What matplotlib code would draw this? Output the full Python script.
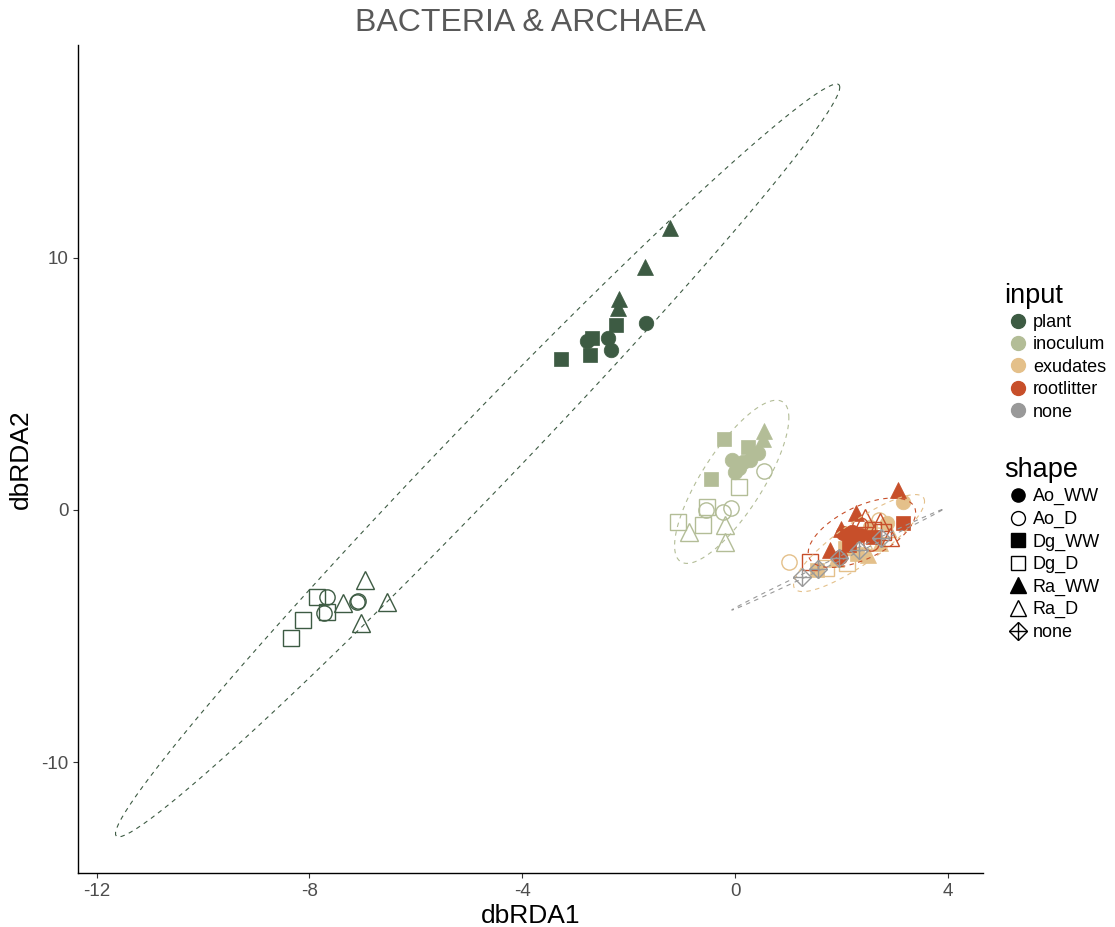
import numpy as np
import matplotlib
matplotlib.use("Agg")
import matplotlib.pyplot as plt
from matplotlib.lines import Line2D

plt.rcParams['font.family'] = ['Liberation Sans', 'DejaVu Sans']
plt.rcParams['axes.unicode_minus'] = False

# ---- data (dbRDA1, dbRDA2) ----
plant_x = [-1.67, -2.78, -2.39, -2.33,
           -2.24, -2.69, -2.73, -3.27,
           -1.22, -1.69, -2.18, -2.20,
           -7.67, -7.73, -7.11, -7.09,
           -7.86, -7.67, -8.12, -8.35,
           -6.95, -7.37, -6.54, -7.03]
plant_y = [7.40, 6.70, 6.81, 6.34,
           7.33, 6.80, 6.14, 5.98,
           11.17, 9.62, 8.36, 8.00,
           -3.44, -4.08, -3.64, -3.62,
           -3.44, -4.04, -4.36, -5.07,
           -2.77, -3.68, -3.64, -4.48]
plant_shape = ['Ao_WW'] * 4 + ['Dg_WW'] * 4 + ['Ra_WW'] * 4 + \
              ['Ao_D'] * 4 + ['Dg_D'] * 4 + ['Ra_D'] * 4

inoc_x = [-0.06, 0.08, 0.28, 0.43, 0.00, 0.15,
          -0.21, -0.45, 0.24,
          0.55, 0.52,
          0.55, -0.55, -0.23, -0.08,
          0.08, -0.53, -1.07, -0.60,
          -0.86, -0.19, -0.19]
inoc_y = [1.98, 1.66, 1.98, 2.26, 1.50, 1.90,
          2.81, 1.23, 2.50,
          3.13, 2.80,
          1.54, 0.00, -0.08, 0.08,
          0.91, 0.12, -0.48, -0.59,
          -0.87, -0.59, -1.27]
inoc_shape = ['Ao_WW'] * 6 + ['Dg_WW'] * 3 + ['Ra_WW'] * 2 + \
             ['Ao_D'] * 4 + ['Dg_D'] * 4 + ['Ra_D'] * 3

exud_x = [3.16, 2.54, 2.86, 2.30,
          2.07, 1.54, 2.30,
          2.50, 2.73, 1.90,
          1.02, 2.70,
          2.10, 1.70,
          2.40, 2.85]
exud_y = [0.33, -0.67, -0.51, -1.00,
          -1.50, -2.38, -1.75,
          -1.78, -1.31, -1.95,
          -2.06, -0.40,
          -2.10, -2.30,
          -1.20, -0.70]
exud_shape = ['Ao_WW'] * 4 + ['Dg_WW'] * 3 + ['Ra_WW'] * 3 + \
             ['Ao_D'] * 2 + ['Dg_D'] * 2 + ['Ra_D'] * 2

root_x = [2.03, 2.20, 2.35, 1.97,
          3.16, 2.60, 2.15,
          3.06, 2.27, 1.79, 2.00,
          2.35, 2.55,
          1.41, 2.60, 2.78,
          2.73, 2.91, 2.45]
root_y = [-0.91, -0.87, -0.99, -1.86,
          -0.51, -1.06, -1.40,
          0.79, -0.12, -1.58, -0.75,
          -0.59, -1.30,
          -2.06, -0.79, -0.87,
          -0.47, -1.07, -0.30]
root_shape = ['Ao_WW'] * 4 + ['Dg_WW'] * 3 + ['Ra_WW'] * 4 + \
             ['Ao_D'] * 2 + ['Dg_D'] * 3 + ['Ra_D'] * 3

none_x = [1.26, 1.56, 1.95, 2.33, 2.75]
none_y = [-2.64, -2.34, -1.90, -1.60, -1.13]
none_shape = ['none'] * 5

groups = ['plant', 'inoculum', 'exudates', 'rootlitter', 'none']
colors = {'plant': '#3D5B43', 'inoculum': '#B3BD97', 'exudates': '#E4C08A',
          'rootlitter': '#C74F2A', 'none': '#999999'}
data = {'plant': (plant_x, plant_y, plant_shape),
        'inoculum': (inoc_x, inoc_y, inoc_shape),
        'exudates': (exud_x, exud_y, exud_shape),
        'rootlitter': (root_x, root_y, root_shape),
        'none': (none_x, none_y, none_shape)}

# marker, size, filled
shapes = {'Ao_WW': ('o', 10.5, True), 'Ao_D': ('o', 11, False),
          'Dg_WW': ('s', 10.5, True), 'Dg_D': ('s', 11, False),
          'Ra_WW': ('^', 12, True), 'Ra_D': ('^', 12.5, False),
          'none': ('D', 9, False)}


def cov_trob(pts, nu=5, maxit=25, tol=0.01):
    # port of MASS::cov.trob
    n, p = pts.shape
    loc = pts.mean(axis=0)
    w = np.ones(n)
    for _ in range(maxit):
        w0 = w
        X = pts - loc
        _, d, vt = np.linalg.svd(np.sqrt(w / w.sum())[:, None] * X, full_matrices=False)
        wX = X @ vt.T @ np.diag(1 / d)
        Q = (wX ** 2).sum(axis=1)
        w = (nu + p) / (nu + Q)
        loc = (w[:, None] * pts).sum(axis=0) / w.sum()
        if np.all(np.abs(w - w0) < tol):
            break
    X = pts - loc
    cov = (np.sqrt(w)[:, None] * X).T @ (np.sqrt(w)[:, None] * X) / n
    return loc, cov


def ellipse_pts(x, y, level=0.95, seg=120):
    # same as ggplot2 stat_ellipse(type = "t")
    pts = np.column_stack([x, y])
    n = len(pts)
    center, cov = cov_trob(pts)
    d = n - 1
    fq = d / 2 * ((1 - level) ** (-2 / d) - 1)   # F(2, d) quantile
    radius = np.sqrt(2 * fq)
    chol = np.linalg.cholesky(cov).T
    ang = np.linspace(0, 2 * np.pi, seg)
    circ = np.column_stack([np.cos(ang), np.sin(ang)])
    return center + radius * circ @ chol


fig = plt.figure(figsize=(11.15, 9.27), dpi=100)
ax = fig.add_axes([0.070, 0.0583, 0.8116, 0.8932])

for g in groups:
    xs, ys, sh = data[g]
    c = colors[g]
    for xv, yv, s in zip(xs, ys, sh):
        m, ms, filled = shapes[s]
        if filled:
            ax.plot(xv, yv, marker=m, ms=ms, color=c, mec=c, mew=0.5, ls='none')
        else:
            ax.plot(xv, yv, marker=m, ms=ms, mfc='none', mec=c, mew=1.0, ls='none')
            if s == 'none':
                ax.plot(xv, yv, marker='+', ms=12.5, mec=c, mew=1.0, ls='none')

for g in groups:
    xs, ys, _ = data[g]
    e = ellipse_pts(xs, ys)
    ax.plot(e[:, 0], e[:, 1], color=colors[g], lw=0.8, ls=(0, (4, 4)))

ax.set_xlim(-12.35, 4.66)
ax.set_ylim(-14.38, 18.42)
ax.set_xticks([-12, -8, -4, 0, 4])
ax.set_yticks([-10, 0, 10])
ax.spines['top'].set_visible(False)
ax.spines['right'].set_visible(False)
for sp in ['left', 'bottom']:
    ax.spines[sp].set_linewidth(1.0)
    ax.spines[sp].set_color('black')
ax.tick_params(axis='both', colors='#333333', labelcolor='#4D4D4D',
               labelsize=13.5, length=3.5, width=0.8)
ax.set_xlabel('dbRDA1', fontsize=19, labelpad=3)
ax.set_ylabel('dbRDA2', fontsize=19, labelpad=6)
ax.set_title('BACTERIA & ARCHAEA', fontsize=23, color='#595959', pad=10)

# legends
h_in = [Line2D([], [], marker='o', ms=10, color=colors[g], ls='none') for g in groups]
leg1 = fig.legend(h_in, groups, loc='upper left', bbox_to_anchor=(0.894, 0.703),
                  frameon=False, title='input', title_fontsize=19.5, fontsize=13,
                  alignment='left', handletextpad=0.1, labelspacing=0.3,
                  borderaxespad=0, handlelength=1.5)

shape_names = ['Ao_WW', 'Ao_D', 'Dg_WW', 'Dg_D', 'Ra_WW', 'Ra_D', 'none']
h_sh = []
for s in shape_names:
    m, ms, filled = shapes[s]
    if s == 'none':
        h_sh.append((Line2D([], [], marker='D', ms=9, mfc='none', mec='black', mew=1, ls='none'),
                     Line2D([], [], marker='+', ms=12.5, mec='black', mew=1, ls='none')))
    elif filled:
        h_sh.append(Line2D([], [], marker=m, ms=ms - 1, color='black', ls='none'))
    else:
        h_sh.append(Line2D([], [], marker=m, ms=ms - 1, mfc='none', mec='black', mew=1, ls='none'))
leg2 = fig.legend(h_sh, shape_names, loc='upper left', bbox_to_anchor=(0.894, 0.515),
                  frameon=False, title='shape', title_fontsize=19.5, fontsize=13,
                  alignment='left', handletextpad=0.1, labelspacing=0.3,
                  borderaxespad=0, handlelength=1.5)

fig.savefig('out.png', dpi=100)
